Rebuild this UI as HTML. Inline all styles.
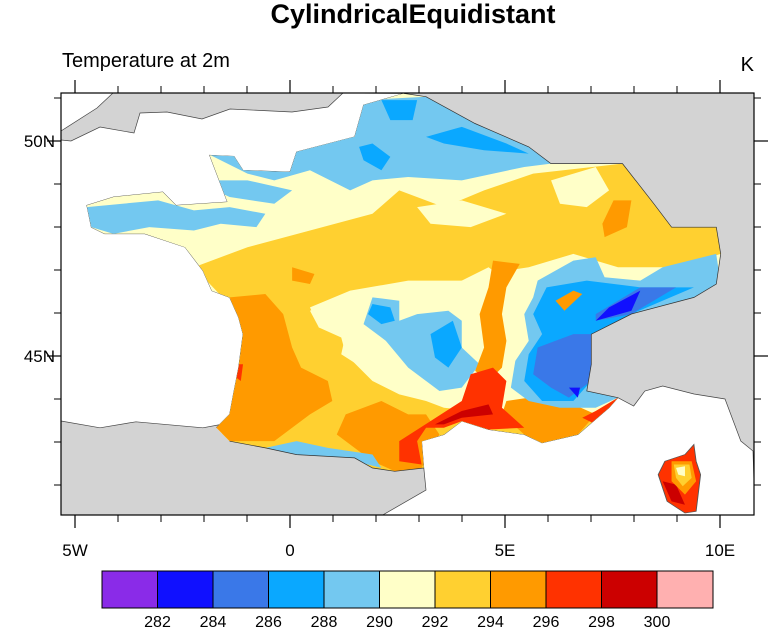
<!DOCTYPE html>
<html><head><meta charset="utf-8"><style>
html,body{margin:0;padding:0;background:#fff;}
svg{display:block;font-family:"Liberation Sans",sans-serif;}
</style></head><body>
<svg width="769" height="635" viewBox="0 0 769 635" xmlns="http://www.w3.org/2000/svg">
<defs>
<clipPath id="fr"><polygon points="403.8,93.4 426,96.7 475,123.5 528.8,146.9 551,163.6 622.5,163.6 653.8,203.7 671.6,227.2 716.3,227.2 720.7,253.9 716.3,284 694,297.4 631.4,314 591.3,334.2 591.3,364.3 586.8,391 618,397.7 609,407.8 577.9,434.5 542,442.9 524.3,434.5 488.6,429.5 461.8,421.1 444,434.5 421.6,441.2 423.8,468 394.8,471.3 372.5,468 354.6,457.9 296.6,454.6 265.4,447.9 229.6,441.2 216.3,427.8 229.6,414.4 234,391 238.6,367.6 243,334.2 238.6,317.5 229.6,297.4 211.8,290.7 202.9,270.6 185,247.2 144.8,233.8 104.6,233.8 91.3,227.2 86.8,205.4 113.6,197 162.7,192 176,205.4 227.4,202 209.6,155.3 234,156.3 243,170.3 290,172 296.6,151.9 354.6,136.8 363.6,105"/></clipPath>
<clipPath id="frame"><rect x="61" y="93" width="693" height="422"/></clipPath>
</defs>
<text x="413" y="23" text-anchor="middle" font-size="27" font-weight="bold">CylindricalEquidistant</text>
<text x="62" y="67" font-size="20">Temperature at 2m</text>
<text x="754" y="71" text-anchor="end" font-size="20">K</text>
<g clip-path="url(#frame)">
<rect x="61" y="93" width="693" height="422" fill="#d3d3d3"/>
<polygon fill="#fff" stroke="#444" stroke-width="0.7" points="61,93 113,93 97,108 61,131"/>
<polygon fill="#fff" stroke="#444" stroke-width="0.7" points="61,140 71,141 100,127 134,133 140,113 167,112 202,119 230,109 292,112 328,107 343,93 403.8,93.4 363.6,105 354.6,136.8 296.6,151.9 290,172 243,170.3 234,156.3 209.6,155.3 227.4,202 176,205.4 162.7,192 113.6,197 86.8,205.4 91.3,227.2 104.6,233.8 144.8,233.8 185,247.2 202.9,270.6 211.8,290.7 229.6,297.4 238.6,317.5 243,334.2 238.6,367.6 234,391 229.6,414.4 216.3,427.8 220.7,424.5 202.9,427.8 135.9,421.8 100,427.8 61,421"/>
<polygon fill="#fff" stroke="#444" stroke-width="0.7" points="423.8,468 426,490 381,516 755,516 753,451 740.8,441 725,399 694,394 662.7,386 644.8,391 633.7,406 618,397.7 609,407.8 577.9,434.5 542,442.9 524.3,434.5 488.6,429.5 461.8,421.1 444,434.5 421.6,441.2"/>
<g clip-path="url(#fr)">
<g transform="translate(60,80) scale(0.4464,0.3344)">
<rect x="0" y="0" width="1600" height="1400" fill="#ffffc8"/>
<polygon fill="#73c8f0" points="330,220 660,170 680,60 820,50 930,130 1050,200 1100,250 1040,260 900,300 780,290 700,300 650,330 560,270 480,300 420,280"/>
<polygon fill="#73c8f0" points="60,380 140,370 220,360 300,390 380,380 460,400 440,440 360,430 300,450 200,440 120,460 70,440"/>
<polygon fill="#73c8f0" points="300,300 420,300 520,330 480,370 380,350"/>
<polygon fill="#0aa8ff" points="720,60 800,60 790,120 740,120"/>
<polygon fill="#0aa8ff" points="820,170 900,140 1000,190 1050,220 950,210 860,190"/>
<polygon fill="#0aa8ff" points="670,200 700,190 740,230 720,270 680,240"/>
<polygon fill="#ffd030" points="300,560 420,500 560,450 700,400 760,330 860,380 950,330 1060,280 1260,250 1330,370 1470,440 1480,520 1380,560 1250,560 1150,520 1050,560 950,580 850,620 750,620 650,640 560,690 580,740 640,760 630,820 700,880 780,900 820,960 860,980 1000,1000 1100,960 1200,1000 1250,950 1180,1100 820,1180 700,1170 600,1120 380,1100 340,1000 400,700"/>
<polygon fill="#ffffc8" points="1100,300 1200,260 1230,330 1180,380 1120,370"/>
<polygon fill="#ffffc8" points="800,380 900,360 1000,400 920,440 830,430"/>
<polygon fill="#ffffc8" points="560,680 650,630 780,600 900,600 960,560 1000,600 970,680 960,760 940,860 880,920 820,960 760,940 700,900 640,820 630,770 580,740"/>
<polygon fill="#73c8f0" points="700,650 760,660 760,720 800,700 870,690 900,720 900,800 940,850 900,920 850,930 820,900 780,860 730,780 680,730"/>
<polygon fill="#0aa8ff" points="700,670 740,680 750,720 720,730 690,700"/>
<polygon fill="#0aa8ff" points="830,760 880,720 900,800 870,860 840,830"/>
<polygon fill="#ff9a00" points="380,650 460,640 500,700 520,800 540,860 600,900 610,960 560,1000 520,1040 480,1080 380,1080 350,1040 390,930 400,860 410,760"/>
<polygon fill="#ff9a00" points="640,1000 720,960 780,1000 820,1000 850,1060 810,1160 750,1170 700,1140 660,1100 620,1060"/>
<polygon fill="#ff9a00" points="970,540 1030,550 1000,620 990,700 1000,780 990,860 960,900 930,870 950,800 940,700 960,620"/>
<polygon fill="#ff9a00" points="1240,360 1280,360 1270,440 1220,470 1215,430"/>
<polygon fill="#ff9a00" points="1000,960 1100,940 1200,1000 1160,1060 1080,1085 1040,1060 990,1000"/>
<polygon fill="#ff9a00" points="520,560 570,580 560,610 520,600"/>
<polygon fill="#73c8f0" points="460,1100 530,1080 600,1100 700,1120 720,1160 660,1140 600,1130 520,1120"/>
<polygon fill="#ff3200" points="920,880 970,860 1000,900 990,980 1040,1040 960,1045 900,1020 860,1040 820,1040 800,1080 810,1150 760,1140 760,1080 830,1020 900,960 910,920"/>
<polygon fill="#ff3200" points="1200,990 1250,950 1200,1030 1170,1010"/>
<polygon fill="#ff3200" points="395,850 410,850 405,900 395,890"/>
<polygon fill="#cc0000" points="900,990 960,970 970,1000 900,1010 860,1030 840,1030"/>
<polygon fill="#73c8f0" points="1070,600 1150,540 1200,530 1220,590 1300,600 1350,560 1470,520 1480,610 1420,650 1280,700 1190,760 1190,850 1180,930 1250,950 1200,980 1120,980 1050,960 1010,920 1020,840 1050,780 1040,700 1060,650"/>
<polygon fill="#0aa8ff" points="1090,620 1180,600 1300,620 1420,620 1280,700 1190,760 1190,900 1150,960 1080,960 1040,900 1050,820 1080,760 1060,700"/>
<polygon fill="#ff9a00" points="1110,660 1150,630 1170,640 1130,690"/>
<polygon fill="#3a78e8" points="1070,800 1150,760 1190,760 1190,900 1140,950 1100,920 1060,880"/>
<polygon fill="#3a78e8" points="1200,700 1300,620 1380,620 1280,700 1200,720"/>
<polygon fill="#1010ff" points="1230,680 1300,630 1280,690 1200,720"/>
<polygon fill="#1010ff" points="1140,920 1165,920 1160,950"/>
</g>
</g>
<polyline fill="none" stroke="#333" stroke-width="0.7" points="403.8,93.4 426,96.7 475,123.5 528.8,146.9 551,163.6 622.5,163.6 653.8,203.7 671.6,227.2 716.3,227.2 720.7,253.9 716.3,284 694,297.4 631.4,314 591.3,334.2 591.3,364.3 586.8,391 618,397.7"/>
<polyline fill="none" stroke="#333" stroke-width="0.7" points="423.8,468 394.8,471.3 372.5,468 354.6,457.9 296.6,454.6 265.4,447.9 229.6,441.2"/>
<g transform="translate(60,80) scale(0.4464,0.3344)">
<polygon fill="#ff3200" stroke="#555" stroke-width="2" points="1420,1090 1425,1140 1435,1180 1425,1290 1400,1295 1360,1260 1340,1180 1355,1140 1400,1120"/>
<polygon fill="#cc0000" points="1350,1200 1380,1210 1400,1270 1370,1260"/>
<polygon fill="#ff9a00" points="1370,1140 1415,1140 1425,1200 1400,1240 1370,1200"/>
<polygon fill="#ffd030" points="1375,1150 1410,1150 1415,1190 1395,1215 1380,1190"/>
<polygon fill="#ffffc8" points="1380,1160 1400,1155 1400,1185 1385,1180"/>
</g>
</g>
<rect x="61" y="93" width="693" height="422" fill="none" stroke="#000" stroke-width="1.2"/>
<g stroke="#000" stroke-width="1.2">
<line x1="75" y1="93" x2="75" y2="80"/><line x1="290" y1="93" x2="290" y2="80"/><line x1="505" y1="93" x2="505" y2="80"/><line x1="720" y1="93" x2="720" y2="80"/>
<line x1="75" y1="515" x2="75" y2="528"/><line x1="290" y1="515" x2="290" y2="528"/><line x1="505" y1="515" x2="505" y2="528"/><line x1="720" y1="515" x2="720" y2="528"/>
<line x1="61" y1="141" x2="47" y2="141"/><line x1="61" y1="356" x2="47" y2="356"/>
<line x1="754" y1="141" x2="768" y2="141"/><line x1="754" y1="356" x2="768" y2="356"/>
</g>
<g stroke="#000" stroke-width="1">
<line x1="118" y1="93" x2="118" y2="86"/><line x1="161" y1="93" x2="161" y2="86"/><line x1="204" y1="93" x2="204" y2="86"/><line x1="247" y1="93" x2="247" y2="86"/>
<line x1="333" y1="93" x2="333" y2="86"/><line x1="376" y1="93" x2="376" y2="86"/><line x1="419" y1="93" x2="419" y2="86"/><line x1="462" y1="93" x2="462" y2="86"/>
<line x1="548" y1="93" x2="548" y2="86"/><line x1="591" y1="93" x2="591" y2="86"/><line x1="634" y1="93" x2="634" y2="86"/><line x1="677" y1="93" x2="677" y2="86"/>
<line x1="118" y1="515" x2="118" y2="522"/><line x1="161" y1="515" x2="161" y2="522"/><line x1="204" y1="515" x2="204" y2="522"/><line x1="247" y1="515" x2="247" y2="522"/>
<line x1="333" y1="515" x2="333" y2="522"/><line x1="376" y1="515" x2="376" y2="522"/><line x1="419" y1="515" x2="419" y2="522"/><line x1="462" y1="515" x2="462" y2="522"/>
<line x1="548" y1="515" x2="548" y2="522"/><line x1="591" y1="515" x2="591" y2="522"/><line x1="634" y1="515" x2="634" y2="522"/><line x1="677" y1="515" x2="677" y2="522"/>
<line x1="61" y1="98" x2="54" y2="98"/><line x1="61" y1="184" x2="54" y2="184"/><line x1="61" y1="227" x2="54" y2="227"/><line x1="61" y1="270" x2="54" y2="270"/><line x1="61" y1="313" x2="54" y2="313"/><line x1="61" y1="399" x2="54" y2="399"/><line x1="61" y1="442" x2="54" y2="442"/><line x1="61" y1="485" x2="54" y2="485"/>
<line x1="754" y1="98" x2="761" y2="98"/><line x1="754" y1="184" x2="761" y2="184"/><line x1="754" y1="227" x2="761" y2="227"/><line x1="754" y1="270" x2="761" y2="270"/><line x1="754" y1="313" x2="761" y2="313"/><line x1="754" y1="399" x2="761" y2="399"/><line x1="754" y1="442" x2="761" y2="442"/><line x1="754" y1="485" x2="761" y2="485"/>
</g>
<g font-size="17">
<text x="75" y="556" text-anchor="middle">5W</text>
<text x="290" y="556" text-anchor="middle">0</text>
<text x="505" y="556" text-anchor="middle">5E</text>
<text x="720" y="556" text-anchor="middle">10E</text>
<text x="55" y="147" text-anchor="end">50N</text>
<text x="55" y="362" text-anchor="end">45N</text>
</g>
<g stroke="#000" stroke-width="1">
<rect x="102" y="571" width="55.5" height="37" fill="#8a2be8"/>
<rect x="157.5" y="571" width="55.5" height="37" fill="#1010ff"/>
<rect x="213" y="571" width="55.5" height="37" fill="#3a78e8"/>
<rect x="268.5" y="571" width="55.5" height="37" fill="#0aa8ff"/>
<rect x="324" y="571" width="55.5" height="37" fill="#73c8f0"/>
<rect x="379.5" y="571" width="55.5" height="37" fill="#ffffc8"/>
<rect x="435" y="571" width="55.5" height="37" fill="#ffd030"/>
<rect x="490.5" y="571" width="55.5" height="37" fill="#ff9a00"/>
<rect x="546" y="571" width="55.5" height="37" fill="#ff3200"/>
<rect x="601.5" y="571" width="55.5" height="37" fill="#cc0000"/>
<rect x="657" y="571" width="56" height="37" fill="#ffb0b0"/>
</g>
<g font-size="16" text-anchor="middle">
<text x="157.5" y="627">282</text><text x="213" y="627">284</text><text x="268.5" y="627">286</text><text x="324" y="627">288</text><text x="379.5" y="627">290</text>
<text x="435" y="627">292</text><text x="490.5" y="627">294</text><text x="546" y="627">296</text><text x="601.5" y="627">298</text><text x="657" y="627">300</text>
</g>
</svg>
</body></html>
